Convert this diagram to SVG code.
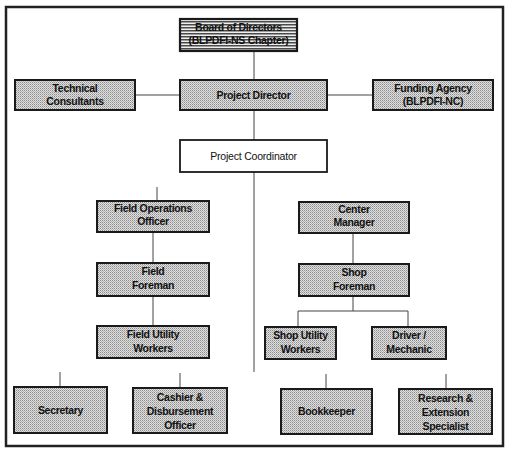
<svg xmlns="http://www.w3.org/2000/svg" width="512" height="456" viewBox="0 0 512 456">
<defs>
<pattern id="dots" width="2" height="2" patternUnits="userSpaceOnUse">
<rect width="2" height="2" fill="#e0e0e0"/>
<rect width="1" height="1" fill="#8c8c8c"/>
<rect x="1" y="1" width="1" height="1" fill="#b0b0b0"/>
</pattern>
<pattern id="stripes" width="3" height="3" patternUnits="userSpaceOnUse">
<rect width="3" height="3" fill="#eeeeee"/>
<rect width="3" height="1.5" fill="#4a4a4a"/>
</pattern>
</defs>
<style>
.box{fill:url(#dots);stroke:#1a1a1a;stroke-width:2}
.board{fill:url(#stripes);stroke:#1a1a1a;stroke-width:2.2}
.plain{fill:#ffffff;stroke:#1a1a1a;stroke-width:1.8}
.t{font-family:"Liberation Sans Narrow","Liberation Sans",Arial,sans-serif;font-weight:bold;font-size:10.5px;letter-spacing:-0.3px;fill:#111;text-anchor:middle}
.r{font-family:"Liberation Sans Narrow","Liberation Sans",Arial,sans-serif;font-size:10.5px;letter-spacing:-0.2px;fill:#111;text-anchor:middle}
.c{stroke:#444;stroke-width:1;fill:none}
</style>
<rect x="6" y="7" width="497" height="439" fill="#ffffff" stroke="#222" stroke-width="2.5"/>
<g id="connectors" class="c">
<line x1="254" y1="51" x2="254" y2="80"/>
<line x1="135" y1="95" x2="180" y2="95"/>
<line x1="327" y1="95" x2="373" y2="95"/>
<line x1="254" y1="110" x2="254" y2="140"/>
<line x1="254" y1="172" x2="254" y2="372"/>
<line x1="157" y1="187" x2="157" y2="201"/>
<line x1="153" y1="232" x2="153" y2="262"/>
<line x1="153" y1="296" x2="153" y2="326"/>
<line x1="353" y1="233" x2="353" y2="264"/>
<line x1="353" y1="296" x2="353" y2="311"/>
<polyline points="298,327 298,311 408,311 408,327"/>
<line x1="60" y1="372" x2="60" y2="387"/>
<line x1="180" y1="373" x2="180" y2="388"/>
<line x1="326" y1="374" x2="326" y2="389"/>
<line x1="446" y1="374" x2="446" y2="389"/>
</g>
<g id="board">
<rect class="board" x="180" y="19" width="117" height="32"/>
<text class="t" x="238.5" y="31">Board of Directors</text>
<text class="t" x="238.5" y="44">(BLPDFI-NS Chapter)</text>
</g>
<g id="technical">
<rect class="box" x="15" y="80" width="120" height="30"/>
<text class="t" x="75" y="92">Technical</text>
<text class="t" x="75" y="105">Consultants</text>
</g>
<g id="director">
<rect class="box" x="180" y="80" width="147" height="30"/>
<text class="t" x="253.5" y="99">Project Director</text>
</g>
<g id="funding">
<rect class="box" x="373" y="80" width="120" height="30"/>
<text class="t" x="433" y="92">Funding Agency</text>
<text class="t" x="433" y="105">(BLPDFI-NC)</text>
</g>
<g id="coordinator">
<rect class="plain" x="180" y="140" width="147" height="32"/>
<text class="r" x="253.5" y="160">Project Coordinator</text>
</g>
<g id="fieldops">
<rect class="box" x="97" y="201" width="112" height="31"/>
<text class="t" x="153" y="212">Field Operations</text>
<text class="t" x="153" y="225">Officer</text>
</g>
<g id="center">
<rect class="box" x="299" y="202" width="110" height="31"/>
<text class="t" x="354" y="213">Center</text>
<text class="t" x="354" y="226">Manager</text>
</g>
<g id="fieldforeman">
<rect class="box" x="97" y="263" width="112" height="33"/>
<text class="t" x="153" y="275">Field</text>
<text class="t" x="153" y="289">Foreman</text>
</g>
<g id="shopforeman">
<rect class="box" x="299" y="264" width="110" height="32"/>
<text class="t" x="354" y="276">Shop</text>
<text class="t" x="354" y="290">Foreman</text>
</g>
<g id="fieldutility">
<rect class="box" x="97" y="326" width="112" height="32"/>
<text class="t" x="153" y="338">Field Utility</text>
<text class="t" x="153" y="352">Workers</text>
</g>
<g id="shoputility">
<rect class="box" x="265" y="327" width="71" height="32"/>
<text class="t" x="300.5" y="339">Shop Utility</text>
<text class="t" x="300.5" y="353">Workers</text>
</g>
<g id="driver">
<rect class="box" x="372" y="327" width="74" height="32"/>
<text class="t" x="409" y="339">Driver /</text>
<text class="t" x="409" y="353">Mechanic</text>
</g>
<g id="secretary">
<rect class="box" x="14" y="387" width="93" height="46"/>
<text class="t" x="60.5" y="414">Secretary</text>
</g>
<g id="cashier">
<rect class="box" x="133" y="388" width="94" height="45"/>
<text class="t" x="180" y="401">Cashier &amp;</text>
<text class="t" x="180" y="415">Disbursement</text>
<text class="t" x="180" y="429">Officer</text>
</g>
<g id="bookkeeper">
<rect class="box" x="281" y="389" width="91" height="45"/>
<text class="t" x="326.5" y="415">Bookkeeper</text>
</g>
<g id="research">
<rect class="box" x="399" y="389" width="93" height="45"/>
<text class="t" x="445.5" y="402">Research &amp;</text>
<text class="t" x="445.5" y="416">Extension</text>
<text class="t" x="445.5" y="430">Specialist</text>
</g>
</svg>
